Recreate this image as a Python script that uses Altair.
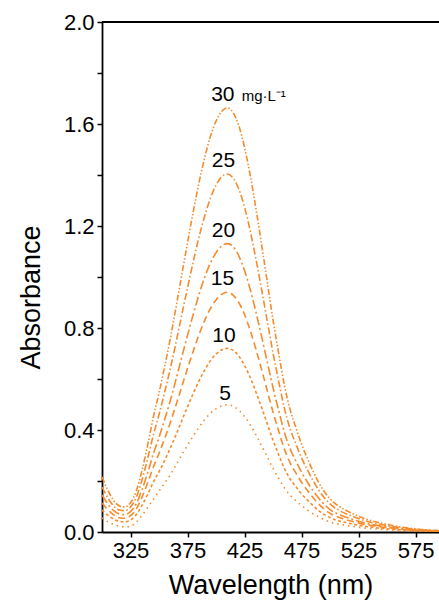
import altair as alt
import pandas as pd

wavelength = [300, 305, 310, 315, 320, 325, 330, 335, 340, 345, 350, 355, 360, 365, 370,
              375, 380, 385, 390, 395, 400, 405, 410, 415, 420, 425, 430, 435, 440, 445,
              450, 455, 460, 465, 470, 475, 480, 490, 500, 510, 520, 530, 540, 550, 560,
              570, 580, 590, 600]

abs_30 = [0.216, 0.165, 0.125, 0.103, 0.098, 0.115, 0.160, 0.240, 0.340, 0.450, 0.545, 0.650,
          0.761, 0.883, 1.009, 1.134, 1.255, 1.368, 1.467, 1.550, 1.611, 1.650, 1.663, 1.645,
          1.593, 1.509, 1.399, 1.269, 1.127, 0.979, 0.832, 0.700, 0.575, 0.480, 0.410, 0.345,
          0.290, 0.195, 0.130, 0.095, 0.072, 0.053, 0.040, 0.030, 0.021, 0.015, 0.010, 0.007, 0.005]
abs_25 = [0.176, 0.135, 0.103, 0.086, 0.083, 0.098, 0.135, 0.203, 0.287, 0.380, 0.460, 0.549,
          0.642, 0.745, 0.852, 0.957, 1.059, 1.155, 1.238, 1.308, 1.360, 1.393, 1.404, 1.388,
          1.345, 1.274, 1.181, 1.071, 0.951, 0.826, 0.702, 0.591, 0.485, 0.405, 0.346, 0.291,
          0.245, 0.165, 0.110, 0.080, 0.061, 0.045, 0.034, 0.025, 0.018, 0.013, 0.008, 0.006, 0.004]
abs_20 = [0.145, 0.110, 0.085, 0.071, 0.068, 0.080, 0.110, 0.165, 0.231, 0.306, 0.371, 0.442,
          0.517, 0.600, 0.686, 0.771, 0.853, 0.930, 0.998, 1.054, 1.095, 1.122, 1.131, 1.119,
          1.083, 1.026, 0.951, 0.863, 0.766, 0.666, 0.566, 0.476, 0.391, 0.326, 0.279, 0.235,
          0.197, 0.133, 0.088, 0.065, 0.049, 0.036, 0.027, 0.020, 0.014, 0.010, 0.007, 0.005, 0.003]
abs_15 = [0.114, 0.088, 0.068, 0.056, 0.054, 0.064, 0.090, 0.136, 0.192, 0.254, 0.308, 0.367,
          0.430, 0.499, 0.570, 0.641, 0.709, 0.773, 0.829, 0.876, 0.910, 0.932, 0.940, 0.929,
          0.900, 0.853, 0.790, 0.717, 0.637, 0.553, 0.470, 0.396, 0.325, 0.271, 0.232, 0.195,
          0.164, 0.110, 0.073, 0.054, 0.041, 0.030, 0.023, 0.017, 0.012, 0.008, 0.006, 0.004, 0.003]
abs_10 = [0.086, 0.066, 0.051, 0.042, 0.040, 0.047, 0.068, 0.104, 0.147, 0.195, 0.236, 0.281,
          0.330, 0.382, 0.437, 0.491, 0.543, 0.592, 0.635, 0.671, 0.698, 0.714, 0.720, 0.712,
          0.690, 0.653, 0.606, 0.549, 0.488, 0.424, 0.360, 0.303, 0.249, 0.208, 0.178, 0.149,
          0.126, 0.084, 0.056, 0.041, 0.031, 0.023, 0.017, 0.013, 0.009, 0.006, 0.004, 0.003, 0.002]
abs_5 = [0.055, 0.040, 0.030, 0.023, 0.020, 0.022, 0.038, 0.065, 0.095, 0.128, 0.160, 0.192,
         0.225, 0.263, 0.303, 0.340, 0.376, 0.410, 0.440, 0.465, 0.483, 0.495, 0.499, 0.493,
         0.478, 0.453, 0.420, 0.381, 0.338, 0.294, 0.250, 0.210, 0.173, 0.144, 0.123, 0.104,
         0.087, 0.059, 0.039, 0.029, 0.022, 0.016, 0.012, 0.009, 0.006, 0.004, 0.003, 0.002, 0.001]

series_names = ["30", "25", "20", "15", "10", "5"]
series_values = [abs_30, abs_25, abs_20, abs_15, abs_10, abs_5]

label_text = ["30", "25", "20", "15", "10", "5"]
label_x = [406.0, 406.6, 406.6, 405.7, 407.0, 407.9]
label_y = [1.69, 1.431, 1.157, 0.969, 0.745, 0.518]

unit_text = ["mg·L⁻¹"]
unit_x = [422.5]
unit_y = [1.69]

x_ticks = [325, 350, 375, 400, 425, 450, 475, 500, 525, 550, 575]
y_ticks = [0.0, 0.2, 0.4, 0.6, 0.8, 1.0, 1.2, 1.4, 1.6, 1.8, 2.0]

rows = []
for name, vals in zip(series_names, series_values):
    for w, a in zip(wavelength, vals):
        rows.append({"conc": name, "wl": w, "abs": a})
df = pd.DataFrame(rows)

labels_df = pd.DataFrame({"t": label_text, "wl": label_x, "abs": label_y})
unit_df = pd.DataFrame({"t": unit_text, "wl": unit_x, "abs": unit_y})
top_df = pd.DataFrame({"abs": [2.0]})

ORANGE = "#F68B2C"
FONT = "Liberation Sans"

x_scale = alt.Scale(domain=[300, 595.6], nice=False, zero=False)
y_scale = alt.Scale(domain=[0, 2.0], nice=False)

x_axis = alt.Axis(
    values=x_ticks,
    labelExpr="datum.value % 50 == 25 ? datum.label : ''",
    title="Wavelength (nm)",
    grid=False, domainColor="black", domainWidth=1.8,
    tickColor="black", tickWidth=1.5, tickSize=5,
    labelFont=FONT, labelFontSize=22, labelColor="black", labelPadding=3,
    titleFont=FONT, titleFontSize=27, titleFontWeight="normal", titleColor="black",
    titleY=61, titleBaseline="alphabetic",
)
y_axis = alt.Axis(
    values=y_ticks,
    labelExpr="round(datum.value*10) % 4 == 0 ? format(datum.value, '.1f') : ''",
    title="Absorbance",
    grid=False, domainColor="black", domainWidth=1.8,
    tickColor="black", tickWidth=1.5, tickSize=5,
    labelFont=FONT, labelFontSize=22, labelColor="black", labelPadding=3,
    titleFont=FONT, titleFontSize=27, titleFontWeight="normal", titleColor="black",
    titleX=-63, titleY=275, titleBaseline="alphabetic", titleAlign="center", titleAngle=270,
)

lines = alt.Chart(df).mark_line(
    color=ORANGE, strokeWidth=1.6, interpolate="monotone", clip=True, strokeCap="butt"
).encode(
    x=alt.X("wl:Q", scale=x_scale, axis=x_axis),
    y=alt.Y("abs:Q", scale=y_scale, axis=y_axis),
    detail="conc:N",
    strokeDash=alt.StrokeDash(
        "conc:N",
        scale=alt.Scale(
            domain=series_names,
            range=[[6, 2, 1.5, 2, 1.5, 2], [7, 2.5, 1.5, 2.5], [9, 3, 2, 3],
                   [7, 4], [3, 2.5], [1.5, 4]],
        ),
        legend=None,
    ),
)

labels = alt.Chart(labels_df).mark_text(
    font=FONT, fontSize=21, color="black", align="center", baseline="alphabetic"
).encode(x=alt.X("wl:Q", scale=x_scale), y=alt.Y("abs:Q", scale=y_scale), text="t:N")

unit = alt.Chart(unit_df).mark_text(
    font=FONT, fontSize=15, color="black", align="left", baseline="alphabetic"
).encode(x=alt.X("wl:Q", scale=x_scale), y=alt.Y("abs:Q", scale=y_scale), text="t:N")

top = alt.Chart(top_df).mark_rule(color="black", strokeWidth=1.8).encode(
    y=alt.Y("abs:Q", scale=y_scale)
)

chart = alt.layer(lines, labels, unit, top).properties(
    width=337, height=510,
    autosize=alt.AutoSizeParams(type="none"),
    padding={"left": 102, "top": 22, "right": 0, "bottom": 73},
).configure_view(stroke=None).configure(background="white")

chart.save("out.html", embed_options={"renderer": "svg", "actions": False})
